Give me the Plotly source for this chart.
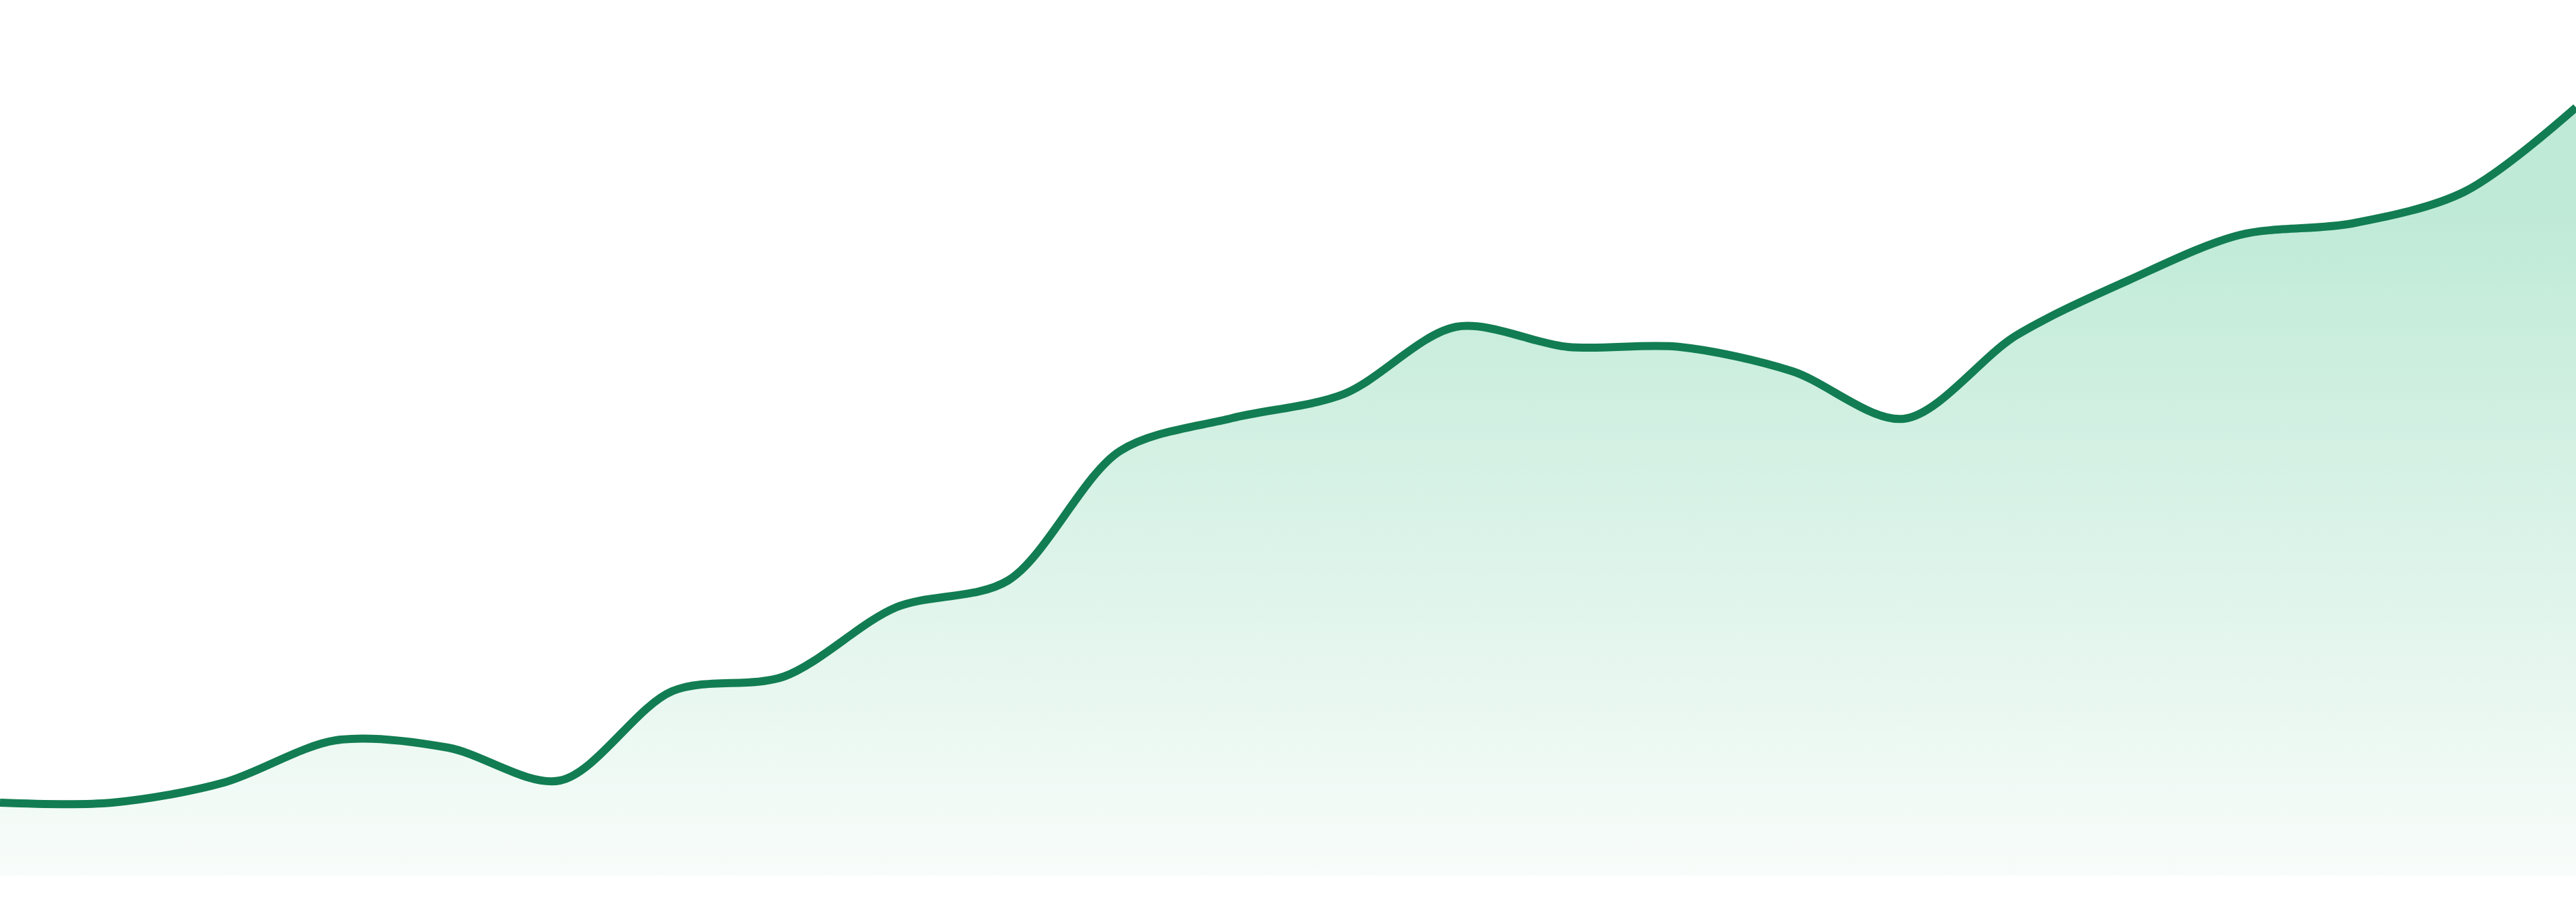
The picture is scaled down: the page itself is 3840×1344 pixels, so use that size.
import plotly.graph_objects as go

# monthly index values
months = [
    "Jan 2022", "Feb 2022", "Mar 2022", "Apr 2022", "May 2022", "Jun 2022",
    "Jul 2022", "Aug 2022", "Sep 2022", "Oct 2022", "Nov 2022", "Dec 2022",
    "Jan 2023", "Feb 2023", "Mar 2023", "Apr 2023", "May 2023", "Jun 2023",
    "Jul 2023", "Aug 2023", "Sep 2023", "Oct 2023", "Nov 2023", "Dec 2023",
]
values = [
    10.9, 10.9, 13.9, 20.2, 19.1, 14.2, 27.5, 29.7, 40.0, 44.0, 63.3, 68.2,
    71.8, 81.8, 78.8, 78.8, 75.2, 68.1, 80.5, 88.7, 95.5, 97.2, 101.9, 114.5,
]

LINE_COLOR = "#127d52"
FILL_TOP = "rgb(191,234,215)"
FILL_BOTTOM = "rgb(248,252,250)"

fig = go.Figure()
fig.add_trace(
    go.Scatter(
        x=months,
        y=values,
        mode="lines",
        line=dict(color=LINE_COLOR, width=12, shape="spline", smoothing=0.9),
        fill="tozeroy",
        fillgradient=dict(
            type="vertical",
            colorscale=[[0, FILL_BOTTOM], [1, FILL_TOP]],
            start=0,
            stop=99.7,
        ),
        hoverinfo="skip",
        showlegend=False,
    )
)

fig.update_layout(
    width=3840,
    height=1344,
    margin=dict(l=0, r=0, t=0, b=39, pad=0),
    paper_bgcolor="white",
    plot_bgcolor="white",
    xaxis=dict(visible=False, type="category", range=[0, len(months) - 1]),
    yaxis=dict(visible=False, range=[0, 130.5]),
)

# drop the browser's default body margin so the chart fills the window
fig.write_html(
    "out.html",
    config={"displayModeBar": False},
    post_script="document.body.style.margin = '0'; document.body.style.overflow = 'hidden';",
)
